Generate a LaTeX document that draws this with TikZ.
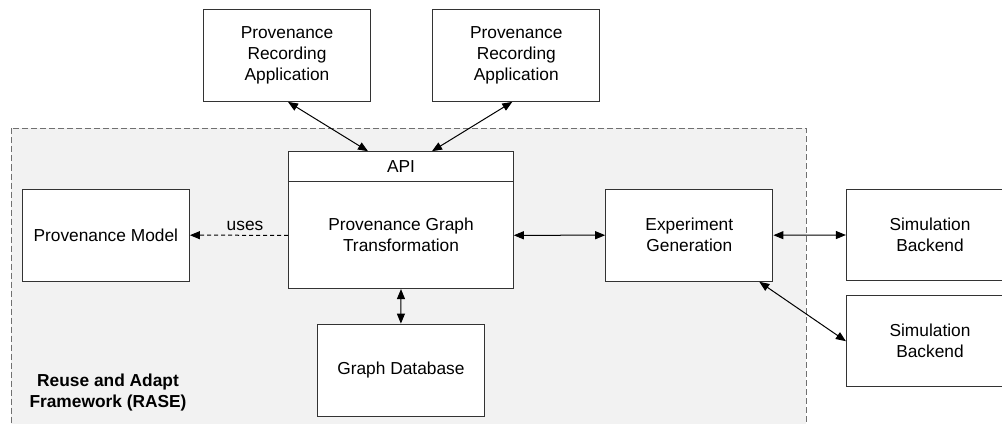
\documentclass[tikz,border=0pt]{standalone}
\usepackage{fontspec}
\setmainfont{Liberation Sans}
\usetikzlibrary{arrows.meta,calc}
\definecolor{boxc}{HTML}{333333}
\definecolor{framec}{HTML}{707070}
\definecolor{framefill}{HTML}{F2F2F2}
\begin{document}
\begin{tikzpicture}[x=0.75pt,y=-0.75pt,
  txt/.style={font=\fontsize{13}{15.75}\selectfont, align=center},
  box/.style 2 args={txt, draw=boxc, line width=0.9pt, fill=white,
    minimum width=#1*0.75pt, minimum height=#2*0.75pt, inner sep=0pt},
  tip/.tip={Triangle[length=7.5pt,width=6pt]},
  conn/.style={line width=0.75pt, tip-tip},
  usesconn/.style={line width=0.75pt, -tip, dash pattern=on 3pt off 2.25pt},
]
\useasboundingbox (0,0) rectangle (1002,424);
% framework area
\draw[framec, fill=framefill, line width=0.75pt, dash pattern=on 4.5pt off 2.25pt]
  (11,128.5) rectangle (806,440);
\node[txt, font=\fontsize{13}{15.75}\selectfont\bfseries] (rase) at (108,393) {Reuse and Adapt\\Framework (RASE)};

% boxes
\node[box={167}{92}] (top1) at (287,55.3) {Provenance\\Recording\\Application};
\node[box={167}{92}] (top2) at (516.3,55.3) {Provenance\\Recording\\Application};
\node[box={225}{137}] (api) at (401,220.3) {};
\draw[boxc, line width=0.9pt] ($(api.north west)+(0,30)$) -- ($(api.north east)+(0,30)$);
\node[txt] (apititle) at (401,166.5) {API};
\node[txt, minimum width=225*0.75pt, minimum height=107*0.75pt, inner sep=0pt] (apibody) at (401,235.3) {Provenance Graph\\Transformation};
\node[box={167}{92}] (pmodel) at (105.8,235.2) {Provenance Model};
\node[box={167}{92}] (gdb) at (400.9,370.2) {Graph Database};
\node[box={167}{92}] (exp) at (689.3,235.2) {Experiment\\Generation};
\node[box={167}{91}] (sim1) at (930,235) {Simulation\\Backend};
\node[box={167}{91}] (sim2) at (930,341.2) {Simulation\\Backend};

% connectors
\draw[conn] ($(top1.south)+(1,0)$) -- ($(api.north)+(-33,0)$);
\draw[conn] ($(top2.south)+(-4,0)$) -- ($(api.north)+(31,0)$);
\draw[usesconn] (apibody.west) -- (pmodel.east);
\node[txt] (uses) at (245,225.5) {uses};
\draw[conn] (apibody.east) -- (exp.west);
\draw[conn] (apibody.south) -- (gdb.north);
\draw[conn] (exp.east) -- (sim1.west);
\draw[conn] ($(exp.south)+(70,0)$) -- (sim2.west);
\end{tikzpicture}
\end{document}
